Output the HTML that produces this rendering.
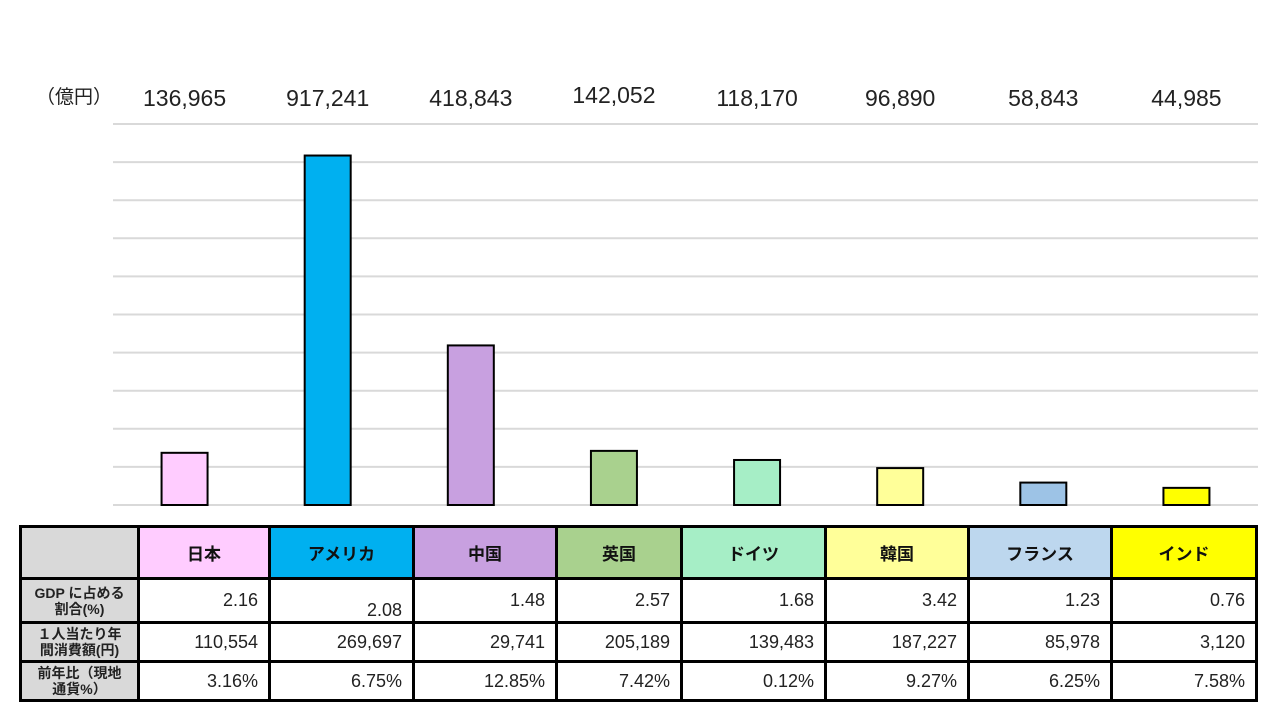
<!DOCTYPE html>
<html><head><meta charset="utf-8"><style>
body{margin:0;width:1280px;height:720px;background:#fff;overflow:hidden;font-family:"Liberation Sans","Noto Sans CJK JP",sans-serif;position:relative}
svg{position:absolute;left:0;top:0}
table{position:absolute;left:19px;top:525px;border-collapse:collapse;table-layout:fixed}
td{border:3px solid #000;padding:0 10px;font-size:18px;color:#222;text-align:right;box-sizing:border-box}
td.h{background:#d9d9d9;text-align:center;font-weight:bold;font-size:14px;line-height:16px;padding:0 2px;color:#222}
tr.hd td{text-align:center;font-weight:bold;font-size:17px;color:#111}
</style></head><body>
<svg width="1280" height="520"></svg>
<table>
<colgroup><col style="width:118px"><col style="width:131px"><col style="width:144px"><col style="width:143px"><col style="width:125px"><col style="width:144px"><col style="width:143px"><col style="width:143px"><col style="width:145px"></colgroup>
<tr class="hd" style="height:52px"><td class="h" style="background:#d9d9d9"></td>
<td style="background:#ffccff">日本</td><td style="background:#00b0f0">アメリカ</td><td style="background:#c8a0e0">中国</td><td style="background:#a9d18e">英国</td><td style="background:#a6eec6">ドイツ</td><td style="background:#ffff99">韓国</td><td style="background:#bdd7ee">フランス</td><td style="background:#ffff00">インド</td></tr>
<tr style="height:44px"><td class="h">GDP に占める<br>割合(%)</td><td style="vertical-align:top;padding-top:10px">2.16</td><td style="vertical-align:bottom;padding-bottom:0">2.08</td><td>1.48</td><td>2.57</td><td>1.68</td><td>3.42</td><td>1.23</td><td>0.76</td></tr>
<tr style="height:39px"><td class="h">１人当たり年<br>間消費額(円)</td><td>110,554</td><td>269,697</td><td>29,741</td><td>205,189</td><td>139,483</td><td>187,227</td><td>85,978</td><td>3,120</td></tr>
<tr style="height:39px"><td class="h">前年比（現地<br>通貨%）</td><td>3.16%</td><td>6.75%</td><td>12.85%</td><td>7.42%</td><td>0.12%</td><td>9.27%</td><td>6.25%</td><td>7.58%</td></tr>
</table>
<script>
const categories=["日本","アメリカ","中国","英国","ドイツ","韓国","フランス","インド"];
const values=[136965,917241,418843,142052,118170,96890,58843,44985];
const valueLabels=["136,965","917,241","418,843","142,052","118,170","96,890","58,843","44,985"];
const colors=["#ffccff","#00b0f0","#c8a0e0","#a9d18e","#a6eec6","#ffff99","#9dc3e6","#ffff00"];
const ns="http://www.w3.org/2000/svg",svg=document.querySelector('svg');
const y0=505,y1=124,maxV=1000000,x0=113,x1=1258;
const y=v=>y0-(v/maxV)*(y0-y1);
const band=(x1-x0)/categories.length, xc=i=>x0+band*(i+0.5);
function mk(t,a){const e=document.createElementNS(ns,t);for(const k in a)e.setAttribute(k,a[k]);svg.appendChild(e);return e;}
for(let i=0;i<=10;i++){const e=mk('line',{x1:x0,x2:x1,y1:y(i*100000),y2:y(i*100000),stroke:'#d9d9d9','stroke-width':2});

}
const u=mk('text',{x:36,y:103,'font-size':19,fill:'#222'});u.textContent='（億円）';


values.forEach((v,i)=>{
 const r=mk('rect',{x:xc(i)-23,y:y(v),width:46,height:y0-y(v),fill:colors[i],stroke:'#000','stroke-width':2});
 
 
 const t=mk('text',{x:xc(i),y:106-(i==3?3:0),'text-anchor':'middle','font-size':23,fill:'#222'});t.textContent=valueLabels[i];
 
 
});
</script>
</body></html>
